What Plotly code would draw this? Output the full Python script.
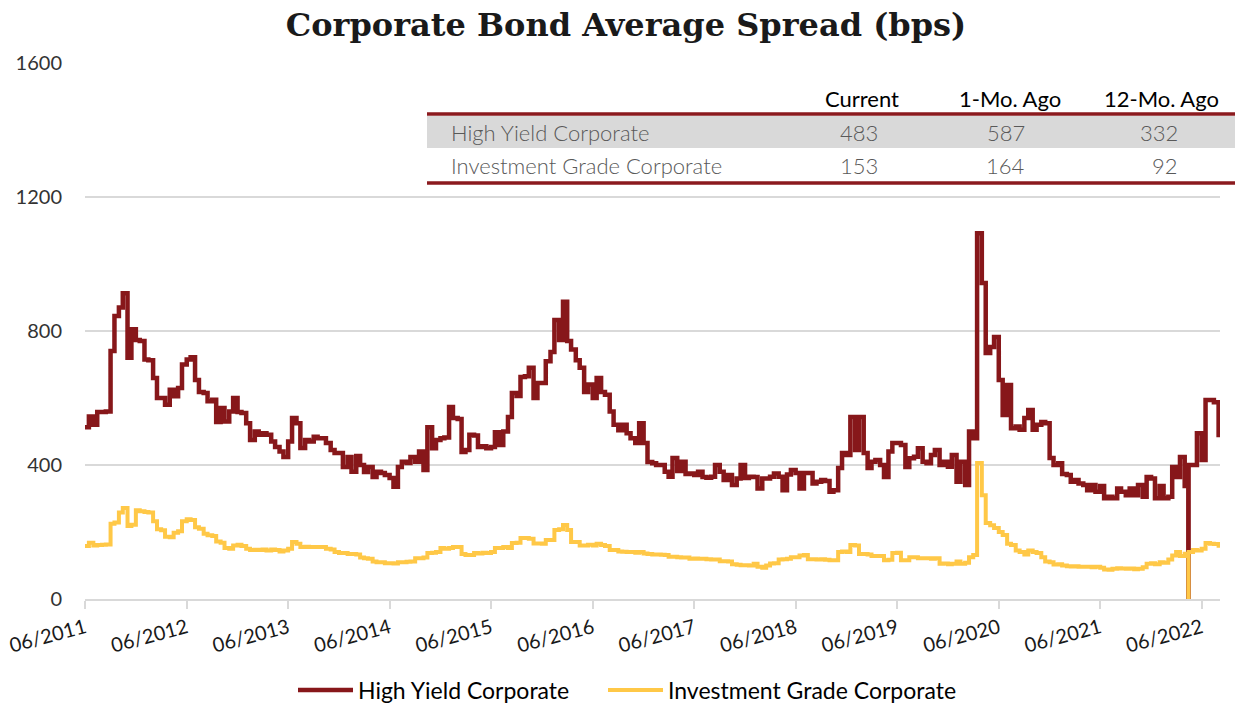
import pandas as pd
import plotly.graph_objects as go

# ---------------- data ----------------
high_yield = [
    513, 545, 520, 558, 558, 560, 740, 845, 870, 913,
    720, 805, 773, 770, 715, 713, 660, 600, 600, 580,
    625, 605, 630, 700, 715, 722, 654, 618, 615, 590,
    595, 528, 570, 530, 560, 600, 558, 555, 525, 475,
    500, 490, 495, 490, 470, 454, 440, 424, 470, 540,
    525, 451, 475, 470,
    484, 480, 480, 466, 445, 436,
    436, 394, 424, 380, 427, 400, 379, 394, 364, 380,
    376, 370, 361, 335, 394, 410, 406, 424, 410, 440,
    385, 513, 450, 475, 480, 482, 573, 540, 537, 439,
    445, 490, 488, 454, 456, 450, 454, 498, 460, 500,
    543, 615, 606, 663, 665, 690,
    600, 645, 645, 710,
    737, 833, 773, 887, 770, 745, 713, 690, 618, 640,
    600, 660, 618, 610, 560, 520, 504, 520, 495, 480,
    466, 525, 466, 409, 405, 400, 400, 380, 365, 421,
    382, 410, 373, 375, 370, 380, 364, 362, 365, 400,
    380, 355, 370, 340, 360, 400, 361, 365,
    364, 330,
    360, 360, 365, 375, 365, 325, 372, 385, 376, 330,
    376, 376, 345, 350, 355, 352, 320, 325, 391, 436,
    430, 543, 445, 543, 436, 391, 410, 415, 400, 364,
    440, 466, 466, 460, 394, 420, 425, 450, 410, 405,
    430, 445, 400, 410, 395, 430, 350, 410, 340, 500,
    480, 1092, 943, 734, 752, 782, 654, 549, 639, 510,
    515, 505, 540, 564, 505, 520, 528, 525, 421, 400,
    405, 373, 370, 350, 355, 345, 340, 325, 340, 320,
    337, 301, 305, 301, 330, 320, 310, 330, 310, 340,
    305, 364, 360, 301, 337, 301, 305, 394, 364, 424,
    337,
    400, 400, 495, 415, 594, 594, 587, 483,
]

investment_grade = [
    158, 168, 160, 161, 162, 163, 225, 228, 258, 272,
    218, 222, 265, 262, 260, 258, 232, 208, 205, 186,
    184, 198, 202, 232, 238, 236, 214, 210, 195, 190,
    188, 172, 168, 152, 150, 160, 162, 158, 150, 146,
    147, 146, 148, 145, 148, 146, 142, 145, 150, 170,
    165, 155, 156, 155,
    155, 155, 155, 150, 148, 140,
    137, 137, 134, 134, 133, 124, 122, 120, 112, 110,
    110, 107, 107, 106, 110, 110, 111, 112, 122, 122,
    124, 137, 138, 140, 152, 150, 152, 155, 155, 134,
    131, 131, 137, 136, 138, 137, 140, 152, 152, 155,
    152, 167, 168, 182, 182, 180,
    166, 166, 165, 176,
    176, 206, 208, 221, 206, 170, 170, 160, 160, 162,
    160, 165, 161, 158, 146, 146, 142, 141, 140, 140,
    138, 140, 136, 134, 133, 133, 132, 131, 126, 126,
    125, 124, 124, 120, 121, 120, 120, 119, 118, 118,
    113, 113, 112, 104, 102, 101, 101, 100,
    105, 96,
    93, 100, 106, 107, 118, 119, 120, 125, 125, 130,
    131, 119, 119, 118, 119, 117, 116, 116, 140, 142,
    140, 161, 160, 134, 134, 133, 128, 128, 128, 116,
    117, 137, 138, 116, 116, 125, 125, 122, 122, 122,
    120, 122, 105, 106, 104, 105, 112, 105, 108, 125,
    131, 406, 310, 227, 220, 212, 200, 191, 165, 161,
    145, 140, 133, 145, 140, 137, 125, 112, 110, 103,
    104, 100, 98, 97, 98, 96, 96, 96, 95, 96,
    93, 88, 87, 90, 92, 91, 90, 91, 89, 90,
    95, 105, 107, 104, 110, 108, 118, 130, 140, 128,
    135,
    140, 146, 145, 150, 167, 165, 164, 153,
]

start_date = "2011-06-01"
glitch_index = 261          # data drops to 0 for one day just before this point
glitch_value = 0

x_tick_dates = ["2011-06-01", "2012-06-01", "2013-06-01", "2014-06-01",
                "2015-06-01", "2016-06-01", "2017-06-01", "2018-06-01",
                "2019-06-01", "2020-06-01", "2021-06-01", "2022-06-01"]
x_tick_labels = ["06/2011", "06/2012", "06/2013", "06/2014", "06/2015", "06/2016",
                 "06/2017", "06/2018", "06/2019", "06/2020", "06/2021", "06/2022"]
y_ticks = [0, 400, 800, 1200, 1600]

table_columns = ["Current", "1-Mo. Ago", "12-Mo. Ago"]
table_rows = ["High Yield Corporate", "Investment Grade Corporate"]
table_values = [[483, 587, 332], [153, 164, 92]]

series_names = ["High Yield Corporate", "Investment Grade Corporate"]
HY_COLOR = "#87171A"
IG_COLOR = "#FFC847"

# ---------------- build dates ----------------
dates = list(pd.date_range(start_date, periods=len(high_yield), freq="SMS"))
g_date = dates[glitch_index] - pd.Timedelta(days=1)
dates_all = dates[:glitch_index] + [g_date] + dates[glitch_index:]
hy_all = high_yield[:glitch_index] + [glitch_value] + high_yield[glitch_index:]
ig_all = investment_grade[:glitch_index] + [glitch_value] + investment_grade[glitch_index:]

# ---------------- figure ----------------
W, H = 1235, 706
PL, PR, PT, PB = 85, 1220, 63, 599


def fx(x):
    return (x - PL) / (PR - PL)


def fy(y):
    return (PB - y) / (PB - PT)


fig = go.Figure()
fig.add_trace(go.Scatter(x=dates_all, y=hy_all, mode="lines", name=series_names[0],
                         line=dict(color=HY_COLOR, width=4.5, shape="hv"), legend="legend"))
fig.add_trace(go.Scatter(x=dates_all, y=ig_all, mode="lines", name=series_names[1],
                         line=dict(color=IG_COLOR, width=4, shape="hv"), legend="legend2"))

FONT = "Lato"
legend_style = dict(orientation="h", xanchor="left", y=fy(690), yanchor="middle",
                    font=dict(family=FONT, size=23, color="#000000"),
                    itemwidth=55, bgcolor="rgba(0,0,0,0)")

fig.update_layout(
    width=W, height=H,
    margin=dict(l=PL, r=W - PR, t=PT, b=H - PB, autoexpand=False),
    paper_bgcolor="white", plot_bgcolor="white",
    title=dict(text="<b>Corporate Bond Average Spread (bps)</b>",
               font=dict(family="DejaVu Serif", size=32, color="#1a1a1a"),
               x=626 / W, xanchor="center", xref="container",
               y=1 - 25 / H, yanchor="middle", yref="container"),
    showlegend=True,
    legend=dict(x=fx(293), **legend_style),
    legend2=dict(x=fx(603), **legend_style),
    xaxis=dict(type="date", range=["2011-06-01", "2022-08-06"], automargin=False,
               tickvals=x_tick_dates, ticktext=x_tick_labels, tickangle=-15,
               tickfont=dict(family=FONT, size=20, color="#1a1a1a"),
               showgrid=False, showline=True, linecolor="#d9d9d9", linewidth=1.5,
               ticks="outside", ticklen=8, tickcolor="#d9d9d9", tickwidth=1.5,
               zeroline=False),
    yaxis=dict(range=[0, 1600], tickvals=y_ticks, automargin=False,
               tickfont=dict(family=FONT, size=20, color="#333333"),
               showgrid=True, gridcolor="#d9d9d9", gridwidth=1.5,
               zeroline=False, showline=False, ticks="", ticklabelstandoff=22),
)

# ---------------- summary table ----------------
T_LEFT, T_RIGHT = 427, 1235
header_y = 98
rule_top, rule_bottom = 114, 183
row_tops = [116, 149]
row_h = 33
label_x = 449
col_right = [880, 1027, 1180]
col_header_center = [862, 1010, 1161]

fig.add_shape(type="rect", xref="paper", yref="paper",
              x0=fx(T_LEFT), x1=fx(T_RIGHT), y0=fy(row_tops[0] + row_h - 1), y1=fy(row_tops[0]),
              fillcolor="#d9d9d9", line=dict(width=0), layer="above")
for yy in (rule_top, rule_bottom):
    fig.add_shape(type="line", xref="paper", yref="paper",
                  x0=fx(T_LEFT), x1=fx(T_RIGHT), y0=fy(yy), y1=fy(yy),
                  line=dict(color="#8B1A1E", width=3.5), layer="above")

for name, cx in zip(table_columns, col_header_center):
    fig.add_annotation(xref="paper", yref="paper", x=fx(cx), y=fy(header_y),
                       text=name, showarrow=False, xanchor="center", yanchor="middle",
                       font=dict(family=FONT, size=22, color="#000000"))

for r, (rname, vals) in enumerate(zip(table_rows, table_values)):
    cy = row_tops[r] + row_h / 2
    fig.add_annotation(xref="paper", yref="paper", x=fx(label_x), y=fy(cy),
                       text=rname, showarrow=False, xanchor="left", yanchor="middle",
                       font=dict(family=FONT, size=22, color="#595959", weight=300))
    for v, rx in zip(vals, col_right):
        fig.add_annotation(xref="paper", yref="paper", x=fx(rx), y=fy(cy),
                           text=str(v), showarrow=False, xanchor="right", yanchor="middle",
                           font=dict(family=FONT, size=22, color="#595959", weight=300))

fig.write_html(
    "out.html",
    config={"displayModeBar": False},
    post_script="document.body.style.margin='0';document.body.style.overflow='hidden';",
)
